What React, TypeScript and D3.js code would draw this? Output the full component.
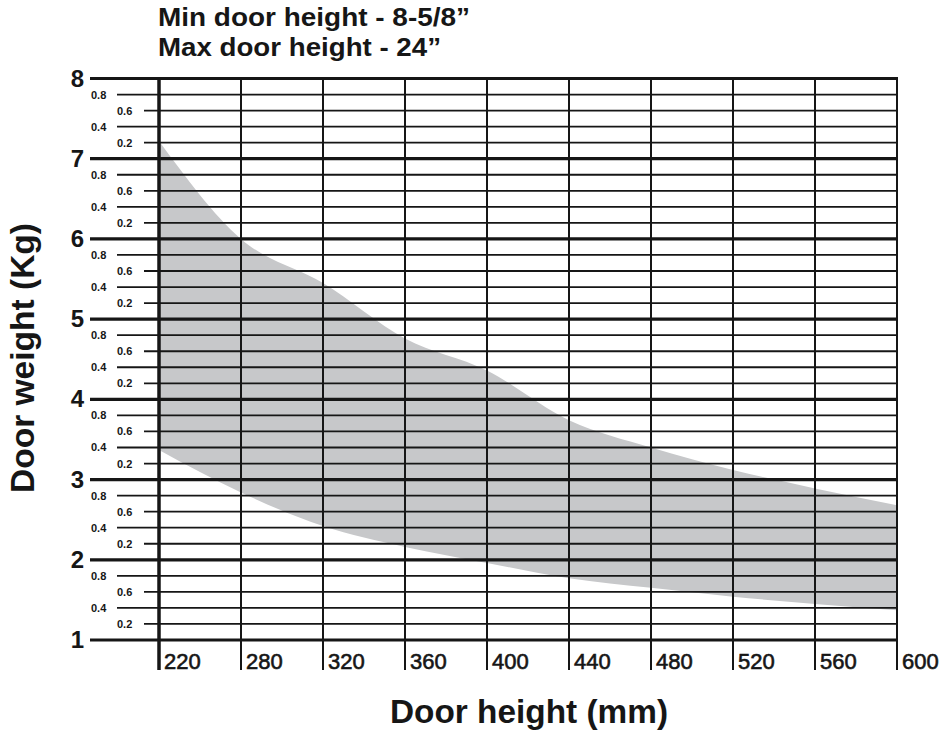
import React from "react";
import * as d3 from "d3";

const xLabels = ["220", "280", "320", "360", "400", "440", "480", "520", "560", "600"];
const upperWeight = [7.22, 6.0, 5.45, 4.76, 4.36, 3.74, 3.4, 3.12, 2.89, 2.68];
const lowerWeight = [3.37, 2.84, 2.42, 2.16, 1.96, 1.77, 1.65, 1.54, 1.45, 1.37];
const majorTicks = [1, 2, 3, 4, 5, 6, 7, 8];
const minorTicks = [0.2, 0.4, 0.6, 0.8];
const titleLines = ["Min door height - 8-5/8\u201D", "Max door height - 24\u201D"];
const titleWidths = [312, 283];

const W = 946;
const H = 730;
const FONT = "'Liberation Sans', Arial, Helvetica, sans-serif";
const INK = "#161616";

export default function App() {
  const x = d3.scalePoint<string>().domain(xLabels).range([159, 897]);
  const y = d3.scaleLinear().domain([1, 8]).range([640, 78.5]);

  const band = xLabels.map((l, i) => ({ l, hi: upperWeight[i], lo: lowerWeight[i] }));
  const area = d3
    .area<{ l: string; hi: number; lo: number }>()
    .x((d) => x(d.l) as number)
    .y0((d) => y(d.lo))
    .y1((d) => y(d.hi))
    .curve(d3.curveMonotoneX);

  const minorLines: { v: number; m: number }[] = [];
  majorTicks.slice(0, -1).forEach((v) => {
    minorTicks.forEach((m) => minorLines.push({ v: v + m, m }));
  });

  const xRight = 897;

  return (
    <svg width={W} height={H} style={{ position: "absolute", left: 0, top: 0, background: "#fff" }}>
      <rect width={W} height={H} fill="#fff" />
      {titleLines.map((t, i) => (
        <text
          key={t}
          x={158}
          y={26 + i * 30}
          fontFamily={FONT}
          fontWeight="bold"
          fontSize={25}
          fill={INK}
          textLength={titleWidths[i]}
          lengthAdjust="spacingAndGlyphs"
        >
          {t}
        </text>
      ))}
      <path d={area(band) || ""} fill="#c7c8ca" />
      {minorLines.map(({ v, m }) => {
        const inner = Math.abs(m - 0.6) < 1e-6 || Math.abs(m - 0.2) < 1e-6;
        const x0 = inner ? 144 : 117;
        const lx = inner ? 117 : 91;
        return (
          <g key={v.toFixed(1)}>
            <line x1={x0} x2={xRight} y1={y(v)} y2={y(v)} stroke={INK} strokeWidth={1.8} />
            <text x={lx} y={y(v) + 4} fontFamily={FONT} fontWeight="bold" fontSize={11} fill={INK}>
              {m.toFixed(1)}
            </text>
          </g>
        );
      })}
      {xLabels.map((l, i) => (
        <line
          key={"v" + l}
          x1={x(l)}
          x2={x(l)}
          y1={y(8) - 1}
          y2={670}
          stroke={INK}
          strokeWidth={i === 0 ? 3.5 : 2}
        />
      ))}
      {majorTicks.map((v) => (
        <g key={"M" + v}>
          <line x1={90} x2={xRight + 1} y1={y(v)} y2={y(v)} stroke={INK} strokeWidth={3.2} />
          <text
            x={84}
            y={y(v) + 8}
            textAnchor="end"
            fontFamily={FONT}
            fontWeight="bold"
            fontSize={24}
            fill={INK}
          >
            {v}
          </text>
        </g>
      ))}
      {xLabels.map((l) => (
        <text
          key={"t" + l}
          x={(x(l) as number) + 5}
          y={669}
          fontFamily={FONT}
          fontSize={22}
          fill={INK}
          stroke={INK}
          strokeWidth={0.6}
        >
          {l}
        </text>
      ))}
      <text
        x={529}
        y={723}
        textAnchor="middle"
        fontFamily={FONT}
        fontWeight="bold"
        fontSize={33}
        fill={INK}
        textLength={278}
        lengthAdjust="spacingAndGlyphs"
      >
        Door height (mm)
      </text>
      <text
        transform={`translate(34,358) rotate(-90)`}
        textAnchor="middle"
        fontFamily={FONT}
        fontWeight="bold"
        fontSize={33}
        fill={INK}
        textLength={270}
        lengthAdjust="spacingAndGlyphs"
      >
        Door weight (Kg)
      </text>
    </svg>
  );
}
